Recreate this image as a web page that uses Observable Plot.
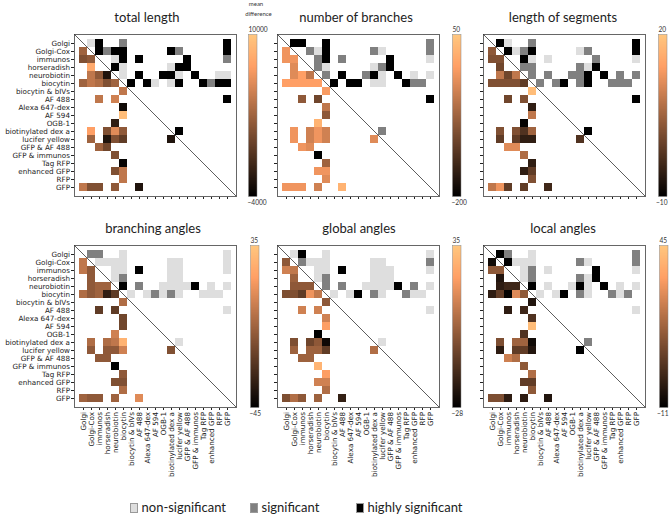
<!DOCTYPE html>
<html><head><meta charset="utf-8">
<script src="https://cdn.jsdelivr.net/npm/d3@7"></script>
<script src="https://cdn.jsdelivr.net/npm/@observablehq/plot@0.6"></script>
<style>
body{margin:0;background:#fff;}
#root{position:relative;width:669px;height:517px;overflow:hidden;background:#fff;font-family:Lato,"Open Sans",sans-serif;color:#222;}
.abs{position:absolute;width:max-content;}
.abs svg{max-width:none !important;}
.title{position:absolute;font-size:13px;transform:translateX(-50%);white-space:nowrap;line-height:1;}
.cbt{position:absolute;font-size:6px;transform:translateX(-50%);white-space:nowrap;line-height:1;color:#333;}
.leg{position:absolute;font-size:13px;line-height:1;white-space:nowrap;}
.sw{position:absolute;width:6px;height:8px;border:0.6px solid #999;}
</style></head><body><div id="root"></div>
<script>
// ---------- data ----------
const categories = ["Golgi","Golgi-Cox","immunos","horseradish","neurobiotin","biocytin","biocytin & bIVs","AF 488","Alexa 647-dex","AF 594","OGB-1","biotinylated dex a","lucifer yellow","GFP & AF 488","GFP & immunos","Tag RFP","enhanced GFP","RFP","GFP"];
const panelTitles = ["total length","number of branches","length of segments","branching angles","global angles","local angles"];
const colorRanges = [[-4000,10000],[-200,50],[-10,20],[-45,35],[-28,35],[-11,45]];
const sigLabels = ["non-significant","significant","highly significant"];

// [row, column, mean difference]  (lower triangle)
const totalLengthDiff = [[1,0,3000],[2,0,1600],[2,1,2300],[3,1,7900],[4,1,4400],[4,2,2300],[4,3,-2600],
 [5,0,3000],[5,1,4400],[5,2,3700],[5,3,1600],[5,4,3000],[6,5,4400],[7,2,4400],[7,4,5100],[8,5,-3300],[9,5,9300],
 [10,4,-1900],[11,1,7200],[11,3,1600],[11,4,5800],[11,5,2300],[12,1,3000],[12,3,-2600],[12,4,1600],[12,5,200],[12,11,-2600],
 [13,2,3000],[13,3,900],[14,4,1600],[15,5,-3700],[16,4,1600],[16,5,4400],[17,5,4400],
 [18,0,4400],[18,1,1600],[18,2,1600],[18,4,2300],[18,7,-2600]];
const branchesDiff = [[1,0,-12],[2,0,-12],[2,1,-12],[3,1,-25],[4,1,-25],[4,2,0],[4,3,-50],
 [5,0,0],[5,1,0],[5,2,0],[5,3,0],[5,4,0],[6,5,-5],[7,2,-88],[7,4,-112],[8,5,-50],[9,5,-88],[10,4,25],
 [11,1,-12],[11,3,-38],[11,4,-12],[11,5,-38],[12,1,-12],[12,3,-38],[12,4,-12],[12,5,-38],[12,11,-25],
 [13,2,-12],[13,3,-25],[14,4,-200],[15,5,-75],[16,4,-12],[16,5,-12],[17,5,-25],
 [18,0,-12],[18,1,-12],[18,2,-12],[18,4,-38],[18,7,25]];
const segmentsDiff = [[1,0,3.5],[2,0,2],[2,1,2],[3,1,0.5],[4,1,8],[4,2,0.5],[4,3,8],
 [5,0,2],[5,1,2],[5,2,2],[5,3,2],[5,4,-1],[6,5,18.5],[7,2,0.5],[7,4,2],[8,5,-5.5],[9,5,8],[10,4,-9.4],
 [11,1,2],[11,3,2],[11,4,-2.5],[11,5,5],[12,1,-1],[12,3,-1],[12,4,-5.5],[12,5,-5.5],[12,11,-2.5],
 [13,2,11],[13,3,11],[14,4,6.5],[15,5,-5.5],[16,4,-5.5],[16,5,-1],[17,5,2],
 [18,0,8],[18,1,12.5],[18,2,-1],[18,4,-1],[18,7,-4]];
const branchingAnglesDiff = [[1,0,3],[2,0,3],[2,1,-9],[3,1,-9],[4,1,-9],[4,2,-5],[4,3,-5],
 [5,0,-1],[5,1,-9],[5,2,-5],[5,3,-33],[5,4,-21],[6,5,-1],[7,2,-21],[7,4,-21],[8,5,-17],[9,5,-17],[10,4,7],
 [11,1,-1],[11,3,-1],[11,4,3],[11,5,27],[12,1,-9],[12,3,-9],[12,4,-9],[12,5,7],[12,11,-13],
 [13,2,-9],[13,3,-9],[14,4,-45],[15,5,-9],[16,4,-13],[16,5,-13],[17,5,-1],
 [18,0,-5],[18,1,-9],[18,2,-9],[18,4,-5],[18,7,11]];
const globalAnglesDiff = [[1,0,0],[2,0,13],[2,1,10],[3,1,3],[4,1,0],[4,2,0],[4,3,0],
 [5,0,-3],[5,1,-3],[5,2,-9],[5,3,19],[5,4,10],[6,5,0],[7,2,13],[7,4,13],[8,5,13],[9,5,22],[10,4,-28],
 [11,1,-3],[11,3,-6],[11,4,0],[11,5,-25],[12,1,3],[12,3,3],[12,4,3],[12,5,-9],[12,11,7],
 [13,2,3],[13,3,3],[14,4,29],[15,5,22],[16,4,13],[16,5,13],[17,5,7],
 [18,0,-3],[18,1,7],[18,2,0],[18,4,3],[18,7,-18]];
const localAnglesDiff = [[1,0,-8],[2,0,14],[2,1,14],[3,1,-5],[4,1,-3],[4,2,0],[4,3,0],
 [5,0,-3],[5,1,6],[5,2,-10],[5,3,28],[5,4,14],[6,5,-5],[7,2,-3],[7,4,0],[8,5,3],[9,5,42],[10,4,3],
 [11,1,11],[11,3,17],[11,4,17],[11,5,-8],[12,1,-3],[12,3,6],[12,4,6],[12,5,-5],[12,11,-11],
 [13,2,25],[13,3,20],[14,4,14],[15,5,20],[16,4,6],[16,5,6],[17,5,14],
 [18,0,11],[18,1,11],[18,2,-3],[18,4,-3],[18,7,-5]];

// [row, column, level]  level 1 = non-significant, 2 = significant, 3 = highly significant (upper triangle)
const totalLengthSig = [[0,1,1],[0,2,3],[0,5,2],[0,18,3],
 [1,2,3],[1,3,2],[1,4,3],[1,5,3],[1,11,3],[1,12,2],[1,18,3],
 [2,4,1],[2,5,3],[2,7,3],[2,13,3],[2,18,2],
 [3,4,3],[3,5,1],[3,11,1],[3,12,3],[3,13,3],
 [4,5,1],[4,7,3],[4,10,3],[4,11,3],[4,12,1],[4,14,3],[4,17,1],[4,18,1],
 [5,6,3],[5,8,3],[5,9,1],[5,11,1],[5,12,3],[5,15,3],[5,16,2],[5,17,3],[5,18,3],
 [7,18,3],[11,12,3]];
const branchesSig = [[0,1,3],[0,2,3],[0,5,3],[0,18,2],
 [1,3,2],[1,4,1],[1,5,3],[1,11,2],[1,12,1],[1,18,2],
 [2,4,2],[2,5,3],[2,7,2],[2,13,3],[2,18,1],
 [3,4,2],[3,5,1],[3,11,1],[3,12,2],[3,13,3],
 [4,5,2],[4,7,3],[4,10,2],[4,11,3],[4,12,1],[4,14,3],[4,16,1],[4,18,1],
 [5,6,3],[5,8,3],[5,9,3],[5,11,1],[5,12,1],[5,15,3],[5,16,2],[5,17,2],
 [7,18,3],[11,12,2]];
const segmentsSig = [[0,1,3],[0,2,1],[0,5,2],[0,18,3],
 [1,2,3],[1,3,1],[1,4,2],[1,5,3],[1,11,1],[1,12,2],[1,18,3],
 [2,4,3],[2,5,1],[2,7,1],[2,13,2],[2,18,1],
 [3,4,2],[3,5,2],[3,11,2],[3,12,1],[3,13,3],
 [4,5,2],[4,7,2],[4,10,2],[4,11,2],[4,12,3],[4,14,3],[4,16,2],[4,18,2],
 [5,6,2],[5,8,2],[5,9,3],[5,11,2],[5,12,3],[5,15,2],[5,16,2],[5,17,2],
 [7,18,3],[11,12,3]];
const branchingAnglesSig = [[0,1,2],[0,2,2],[0,5,1],[0,18,1],
 [1,2,1],[1,3,1],[1,4,1],[1,5,1],[1,11,1],[1,12,1],[1,18,1],
 [2,4,1],[2,5,1],[2,7,3],[2,11,1],[2,12,1],[2,18,1],
 [3,4,1],[3,5,2],[3,11,1],[3,12,1],
 [4,5,3],[4,7,2],[4,10,1],[4,11,1],[4,12,1],[4,13,1],[4,14,3],[4,16,1],[4,18,1],
 [5,6,1],[5,8,1],[5,9,2],[5,10,1],[5,11,2],[5,12,1],[5,15,1],[5,16,1],[5,17,1],
 [7,18,1],[11,12,1]];
const globalAnglesSig = [[0,1,1],[0,2,3],[0,5,1],[0,18,1],
 [1,2,2],[1,3,1],[1,4,1],[1,5,1],[1,11,1],[1,12,1],[1,18,2],
 [2,4,1],[2,5,1],[2,7,3],[2,11,1],[2,12,1],[2,13,1],[2,18,1],
 [3,4,1],[3,5,2],[3,11,1],[3,12,1],[3,13,1],
 [4,5,2],[4,7,2],[4,10,1],[4,11,1],[4,12,1],[4,13,1],[4,14,3],[4,16,2],[4,18,1],
 [5,6,1],[5,8,1],[5,9,3],[5,11,2],[5,12,1],[5,15,2],[5,16,1],[5,17,1],
 [7,18,1],[11,12,1]];
const localAnglesSig = [[0,1,3],[0,2,2],[0,5,1],[0,18,2],
 [1,2,3],[1,3,1],[1,4,1],[1,5,1],[1,11,2],[1,12,1],[1,18,2],
 [2,4,1],[2,5,2],[2,7,1],[2,13,3],[2,18,1],
 [3,4,1],[3,5,2],[3,11,2],[3,12,1],[3,13,3],
 [4,5,3],[4,7,1],[4,10,1],[4,11,3],[4,12,1],[4,14,3],[4,16,1],[4,18,1],
 [5,6,1],[5,8,1],[5,9,3],[5,11,2],[5,12,1],[5,15,2],[5,16,1],[5,17,2],
 [7,18,1],[11,12,2]];

// ---------- styling / layout ----------
const diffs = [totalLengthDiff, branchesDiff, segmentsDiff, branchingAnglesDiff, globalAnglesDiff, localAnglesDiff];
const sigs = [totalLengthSig, branchesSig, segmentsSig, branchingAnglesSig, globalAnglesSig, localAnglesSig];
const sigColors = {1: "#dedede", 2: "#808080", 3: "#000000"};
const M = 162;
const panelX = [74, 277, 483];
const rowY = [33.5, 245];
const cbX = [[248, 452, 658], [250, 452, 659]];
const cbW = 8.5;
const titleX = [[147, 356, 563], [153, 359, 563]];
const titleTop = [10.5, 222];

const root = document.getElementById("root");
function place(el, left, top) {
  const d = document.createElement("div");
  d.className = "abs"; d.style.left = left + "px"; d.style.top = top + "px";
  d.appendChild(el); root.appendChild(d); return d;
}
function copper(range) {
  const [a, b] = range;
  return {type: "linear", domain: [a, a + 0.8 * (b - a), b], range: ["#000000", "#ff9f65", "#ffc77f"], interpolate: "rgb", clamp: true};
}
const fmtNum = d => String(d).replace("-", "\u2212");
const ML = 75, MT = 2, MR = 2, MB = 80;

function diagonal(index, scales, values, dim) {
  const l = document.createElementNS("http://www.w3.org/2000/svg", "line");
  l.setAttribute("x1", dim.marginLeft); l.setAttribute("y1", dim.marginTop);
  l.setAttribute("x2", dim.width - dim.marginRight); l.setAttribute("y2", dim.height - dim.marginBottom);
  l.setAttribute("stroke", "#333"); l.setAttribute("stroke-width", 0.8);
  return l;
}

function panel(i) {
  const row = Math.floor(i / 3), col = i % 3;
  const showY = col === 0, showX = row === 1;
  const diff = diffs[i], sig = sigs[i];
  const cellOpts = {x: d => categories[d[1]], y: d => categories[d[0]], inset: 0, shapeRendering: "crispEdges"};
  const marks = [
    Plot.cell(diff, {...cellOpts, fill: d => d[2]}),
    ...[1, 2, 3].map(l => Plot.cell(sig.filter(d => d[2] === l), {...cellOpts, fill: sigColors[l]})),
    Plot.frame({stroke: "#666", strokeWidth: 1}),
    diagonal
  ];
  const p = Plot.plot({
    width: ML + M + MR, height: MT + M + MB,
    marginLeft: ML, marginTop: MT, marginRight: MR, marginBottom: MB,
    style: {background: "transparent", overflow: "visible", fontFamily: "DejaVu Sans", fontSize: "7.2px", color: "#222", maxWidth: "none"},
    x: {type: "band", domain: categories, padding: 0, tickSize: 3, tickPadding: 1.5, tickRotate: -90, tickFormat: showX ? d => d : () => "", label: null},
    y: {type: "band", domain: categories, padding: 0, tickSize: 3, tickPadding: 1.5, tickFormat: showY ? d => d : () => "", label: null},
    color: copper(colorRanges[i]),
    marks
  });
  place(p, panelX[col] - ML, rowY[row] - MT);

  // colorbar
  const range = colorRanges[i];
  const cML = 3, cMR = 22, cMT = 14, cMB = 14;
  const gradient = Plot.raster
    ? Plot.raster({x1: 0, x2: 1, y1: range[0], y2: range[1], fill: (x, y) => y, width: 1, height: 256})
    : Plot.rect(d3.ticks(range[0], range[1], 200), {x1: 0, x2: 1, y1: d => d, y2: d => d + (range[1] - range[0]) / 200, fill: d => d});
  const cb = Plot.plot({
    width: cML + cbW + cMR, height: cMT + M + cMB,
    marginLeft: cML, marginRight: cMR, marginTop: cMT, marginBottom: cMB,
    style: {background: "transparent", overflow: "visible", fontFamily: "Lato", fontSize: "6.6px", color: "#333", maxWidth: "none"},
    x: {domain: [0, 1], axis: null},
    y: {domain: range, axis: null},
    color: copper(range),
    marks: [
      gradient,
      Plot.frame({stroke: "#888", strokeWidth: 0.5}),
      Plot.text([range[1]], {x: 0, y: d => d, text: fmtNum, textAnchor: "start", dy: -5}),
      Plot.text([range[0]], {x: 0, y: d => d, text: fmtNum, textAnchor: "start", dx: col === 2 ? -2.5 : -1, dy: 6})
    ]
  });
  place(cb, cbX[row][col] - cML, rowY[row] - cMT);

  const t = document.createElement("div");
  t.className = "title"; t.textContent = panelTitles[i];
  t.style.left = titleX[row][col] + "px"; t.style.top = titleTop[row] + "px";
  root.appendChild(t);
}
for (let i = 0; i < 6; i++) panel(i);

// colorbar heading
["mean", "difference"].forEach((w, k) => {
  const d = document.createElement("div"); d.className = "cbt"; d.textContent = w;
  d.style.left = (k ? 258.5 : 256) + "px"; d.style.top = (k ? 11 : 1) + "px"; root.appendChild(d);
});

// significance legend
const legX = [130, 250, 356];
sigLabels.forEach((s, k) => {
  const sw = document.createElement("div"); sw.className = "sw";
  sw.style.left = legX[k] + "px"; sw.style.top = "502.5px"; sw.style.background = sigColors[k + 1];
  root.appendChild(sw);
  const tx = document.createElement("div"); tx.className = "leg"; tx.textContent = s;
  tx.style.left = (legX[k] + 11.5) + "px"; tx.style.top = "500.5px"; root.appendChild(tx);
});
</script></body></html>
